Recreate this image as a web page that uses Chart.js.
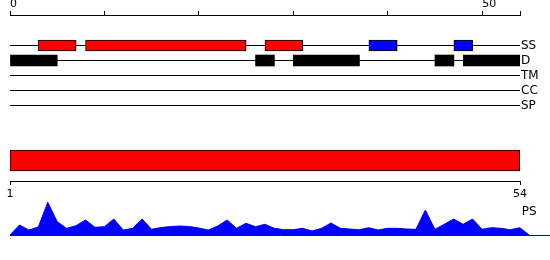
<!DOCTYPE html>
<html><head><meta charset="utf-8">
<script src="https://cdn.jsdelivr.net/npm/chart.js@4/dist/chart.umd.min.js"></script>
<style>
html,body{margin:0;padding:0;background:#fff;}
#wrap{position:relative;width:550px;height:260px;overflow:hidden;background:#fff;}
canvas{position:absolute;left:0;}
</style></head><body>
<div id="wrap">
<canvas id="c1" width="550" height="115" style="top:0px"></canvas>
<canvas id="c2" width="550" height="70" style="top:140px"></canvas>
<canvas id="c3" width="550" height="45" style="top:195px"></canvas>
</div>
<script>
// ---- data ----
const rowLabels = ['SS', 'D', 'TM', 'CC', 'SP'];
const seqStart = 1;
const seqLength = 54;
const topTickLabels = [0, 50];
const bottomTickLabels = [1, 54];
const helixSegments = [[3, 7], [8, 25], [27, 31]];          // SS, red
const strandSegments = [[38, 41], [47, 49]];                // SS, blue
const disorderSegments = [[0, 5], [26, 28], [30, 37], [45, 47], [48, 54]]; // D, black
const tmSegments = [];
const ccSegments = [];
const spSegments = [];
const psLabel = 'PS';
const psValues = [0, 10, 5, 8, 32.7, 13.3, 6.7, 9.3, 15, 7.7, 8.3, 16, 5, 6.7, 16, 5.7,
  7.5, 8.5, 9, 8.5, 7, 5, 9, 15, 6.7, 11.7, 8.3, 10.7, 6.7, 5.3, 5.3, 6.7, 4, 6.7, 12,
  6.7, 6, 5.3, 7.3, 5, 6.7, 6.7, 6, 5.7, 25, 5.7, 10.7, 16, 10.7, 16, 5.7, 7.3, 6.7,
  5.3, 7.3, 0];

Chart.defaults.font.family = "'DejaVu Sans', sans-serif";
Chart.defaults.font.size = 11;
Chart.defaults.color = '#000';

const RED = '#ff0000', BLUE = '#0000ff', BLACK = '#000000';

function segData(segs, row) { return segs.map(s => ({ x: [s[0], s[1]], y: row })); }
function barSet(segs, row, color, border) {
  return {
    type: 'bar', indexAxis: 'y', grouped: false, data: segData(segs, row),
    backgroundColor: color, borderColor: BLACK, borderWidth: border ? 1 : 0,
    borderSkipped: false, barThickness: 11, order: 1
  };
}

// ---- chart 1: feature rows ----
const rowLines = rowLabels.map((l, i) => ({
  type: 'line', data: [{ x: 0, y: i }, { x: seqLength, y: i }],
  borderColor: BLACK, borderWidth: 1, pointRadius: 0, order: 10, fill: false
}));

new Chart(document.getElementById('c1'), {
  type: 'bar',
  data: {
    datasets: [
      barSet(helixSegments, 0, RED, true),
      barSet(strandSegments, 0, BLUE, true),
      barSet(disorderSegments, 1, BLACK, false),
      barSet(tmSegments, 2, BLACK, false),
      barSet(ccSegments, 3, BLACK, false),
      barSet(spSegments, 4, BLACK, false),
      ...rowLines
    ]
  },
  options: {
    indexAxis: 'y', responsive: false, animation: false, devicePixelRatio: 1,
    layout: { padding: { left: 10, right: 0, top: 0, bottom: 0 } },
    plugins: { legend: { display: false }, tooltip: { enabled: false } },
    scales: {
      x: {
        type: 'linear', position: 'top', min: 0, max: seqLength, offset: false,
        grid: { drawOnChartArea: false, drawTicks: true, tickLength: 4, color: BLACK },
        border: { display: true, color: BLACK, width: 1 },
        ticks: {
          stepSize: 10, autoSkip: false, maxRotation: 0, align: 'start', padding: 0,
          callback: v => topTickLabels.includes(v) ? String(v) : ''
        },
        afterFit: s => { s.height = 15; s.paddingTop = 0; s.paddingBottom = 0; }
      },
      y: {
        type: 'linear', position: 'right', reverse: true, min: -2.0333, max: 4.6333, offset: false,
        grid: { display: false, drawTicks: false },
        border: { display: false },
        ticks: {
          autoSkip: false, padding: 1, font: { size: 12 },
          callback: v => rowLabels[v] !== undefined ? rowLabels[v] : ''
        },
        afterBuildTicks: s => { s.ticks = rowLabels.map((l, i) => ({ value: i })); },
        afterFit: s => { s.width = 30; s.paddingTop = 0; s.paddingBottom = 0; }
      }
    }
  }
});

// ---- chart 2: whole-sequence bar ----
new Chart(document.getElementById('c2'), {
  type: 'bar',
  data: {
    datasets: [{
      indexAxis: 'y', grouped: false,
      data: [{ x: [seqStart, seqLength], y: 0.5 }],
      backgroundColor: RED, borderColor: BLACK, borderWidth: 1, borderSkipped: false,
      barThickness: 21
    }]
  },
  options: {
    indexAxis: 'y', responsive: false, animation: false, devicePixelRatio: 1,
    layout: { padding: { left: 10, right: 30, top: 0, bottom: 0 } },
    plugins: { legend: { display: false }, tooltip: { enabled: false } },
    scales: {
      x: {
        type: 'linear', position: 'bottom', min: seqStart, max: seqLength,
        grid: { drawOnChartArea: false, tickLength: 4, color: BLACK },
        border: { display: true, color: BLACK, width: 1 },
        ticks: { autoSkip: false, maxRotation: 0, padding: 3 },
        afterBuildTicks: s => { s.ticks = bottomTickLabels.map(v => ({ value: v })); },
        afterFit: s => { s.height = 29; }
      },
      y: { type: 'linear', display: false, min: 0, max: 1, offset: false }
    }
  }
});

// ---- chart 3: PS profile ----
const psLabelPlugin = {
  id: 'psLabel',
  afterDraw(chart) {
    const ctx = chart.ctx;
    ctx.save();
    ctx.font = "12px 'DejaVu Sans', sans-serif";
    ctx.fillStyle = BLACK;
    ctx.textBaseline = 'middle';
    ctx.textAlign = 'left';
    ctx.fillText(psLabel, chart.scales.x.getPixelForValue(seqLength) + 2, 16.5);
    ctx.restore();
  }
};
new Chart(document.getElementById('c3'), {
  type: 'line',
  data: {
    datasets: [{
      data: psValues.map((v, i) => ({ x: i, y: v })),
      fill: 'origin', backgroundColor: BLUE, borderColor: BLUE, borderWidth: 1,
      pointRadius: 0, tension: 0
    }]
  },
  options: {
    responsive: false, animation: false, devicePixelRatio: 1,
    layout: { padding: { left: 10, right: 0, top: 0, bottom: 5 } },
    plugins: { legend: { display: false }, tooltip: { enabled: false } },
    scales: {
      x: {
        type: 'linear', min: 0, max: 57.2,
        grid: { display: false, drawTicks: false },
        ticks: { display: false },
        border: { display: true, color: BLUE, width: 1 },
        afterFit: s => { s.height = 0; }
      },
      y: { type: 'linear', display: false, min: 0, max: 40 }
    }
  },
  plugins: [psLabelPlugin]
});
</script>
</body></html>
